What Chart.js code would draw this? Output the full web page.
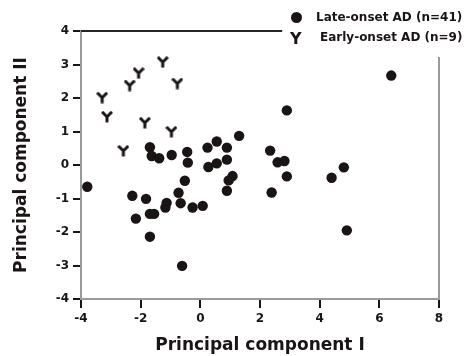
<!DOCTYPE html>
<html>
<head>
<meta charset="utf-8">
<script src="https://cdn.jsdelivr.net/npm/chart.js@4/dist/chart.umd.min.js"></script>
<style>
  html, body { margin: 0; padding: 0; background: #fff; }
  #wrap { position: relative; width: 471px; height: 356px; }
  .leg { position: absolute; font: bold 12px "DejaVu Sans", sans-serif; color: #1a1414; white-space: nowrap; }
  .dot { position: absolute; width: 11px; height: 11px; border-radius: 50%; background: #1a1414; }
</style>
</head>
<body>
<div id="wrap">
  <canvas id="c" width="471" height="356"></canvas>
  <div class="dot" style="left:291px; top:12px;"></div>
  <div class="leg" style="left:316px; top:10px;">Late-onset AD (n=41)</div>
  <div class="leg" style="left:290px; top:29px; font-size:16px;">Y</div>
  <div class="leg" style="left:320px; top:30px;">Early-onset AD (n=9)</div>
</div>
<script>
// late-onset AD (circles)
const lateX = [-1.69, -1.63, -1.38, -0.96, -0.44, -0.42, 0.24, 0.27, -3.79, -0.52,
  -0.73, -2.28, -1.82, -1.13, -1.17, -0.66, -0.26, 0.08, -1.69, -1.55,
  -2.16, -1.69, -0.61, 2.90, 1.30, 0.55, 0.89, 2.34, 0.89, 0.55,
  2.59, 2.82, 2.90, 1.08, 0.95, 0.89, 2.39, 4.40, 4.81, 6.40, 4.91];
const lateY = [0.53, 0.27, 0.20, 0.30, 0.39, 0.07, 0.52, -0.06, -0.65, -0.47,
  -0.83, -0.92, -1.01, -1.13, -1.27, -1.14, -1.27, -1.22, -1.46, -1.46,
  -1.60, -2.14, -3.01, 1.63, 0.87, 0.70, 0.52, 0.43, 0.16, 0.05,
  0.08, 0.12, -0.34, -0.33, -0.46, -0.77, -0.82, -0.38, -0.07, 2.67, -1.95];

// early-onset AD (Y markers)
const earlyX = [-1.26, -2.07, -2.37, -0.77, -3.29, -3.13, -1.86, -0.97, -2.58];
const earlyY = [3.07, 2.74, 2.37, 2.43, 2.01, 1.44, 1.26, 0.99, 0.42];

const xTicks = [-4, -2, 0, 2, 4, 6, 8];
const yTicks = [-4, -3, -2, -1, 0, 1, 2, 3, 4];

const ink = "#1a1414";

function yMarker() {
  const cv = document.createElement("canvas");
  cv.width = 12;
  cv.height = 12;
  const g = cv.getContext("2d");
  g.strokeStyle = ink;
  g.lineWidth = 3;
  g.beginPath();
  g.moveTo(1, 1); g.lineTo(6, 6); g.lineTo(11, 1);
  g.moveTo(6, 6); g.lineTo(6, 11.5);
  g.stroke();
  return cv;
}

const framePlugin = {
  id: "frame",
  afterDraw(chart) {
    const { ctx, chartArea: a } = chart;
    ctx.save();
    ctx.lineWidth = 2;
    ctx.strokeStyle = "#2a2424";
    ctx.beginPath();
    ctx.moveTo(a.left, a.top);
    ctx.lineTo(a.left + (a.right - a.left) * 0.562, a.top);
    ctx.stroke();
    ctx.strokeStyle = "#9a9a9a";
    ctx.beginPath();
    ctx.moveTo(a.right, a.top + 26);
    ctx.lineTo(a.right, a.bottom);
    ctx.stroke();
    ctx.restore();
  },
};

const tickFont = { family: "'DejaVu Sans', sans-serif", size: 12, weight: "bold" };
const titleFont = { family: "'DejaVu Sans', sans-serif", size: 17, weight: "bold" };

new Chart(document.getElementById("c"), {
  type: "scatter",
  data: {
    datasets: [
      {
        label: "Late-onset AD (n=41)",
        data: lateX.map((x, i) => ({ x, y: lateY[i] })),
        pointStyle: "circle",
        pointRadius: 5.2,
        backgroundColor: ink,
        borderColor: ink,
        borderWidth: 0,
      },
      {
        label: "Early-onset AD (n=9)",
        data: earlyX.map((x, i) => ({ x, y: earlyY[i] })),
        pointStyle: yMarker(),
        backgroundColor: ink,
        borderColor: ink,
      },
    ],
  },
  options: {
    responsive: false,
    animation: false,
    layout: { padding: { left: 0, right: 32, top: 31, bottom: 0 } },
    plugins: { legend: { display: false }, tooltip: { enabled: false } },
    scales: {
      x: {
        type: "linear",
        min: -4,
        max: 8,
        afterBuildTicks: (s) => { s.ticks = xTicks.map((v) => ({ value: v })); },
        afterFit: (s) => { s.height = 57; },
        ticks: { color: ink, font: tickFont, padding: 4 },
        grid: { drawOnChartArea: false, drawTicks: true, tickLength: 9, color: ink, lineWidth: 2 },
        border: { color: "#9a9a9a", width: 2 },
        title: { display: true, text: "Principal component I", color: ink, font: titleFont, padding: { top: 0, bottom: 0 } },
      },
      y: {
        type: "linear",
        min: -4,
        max: 4,
        afterBuildTicks: (s) => { s.ticks = yTicks.map((v) => ({ value: v })); },
        afterFit: (s) => { s.width = 81; },
        ticks: { color: ink, font: tickFont, padding: 4 },
        grid: { drawOnChartArea: false, drawTicks: true, tickLength: 8, color: ink, lineWidth: 2 },
        border: { color: "#9a9a9a", width: 2 },
        title: { display: true, text: "Principal component II", color: ink, font: titleFont, padding: { top: 11, bottom: 0 } },
      },
    },
  },
  plugins: [framePlugin],
});
</script>
</body>
</html>
